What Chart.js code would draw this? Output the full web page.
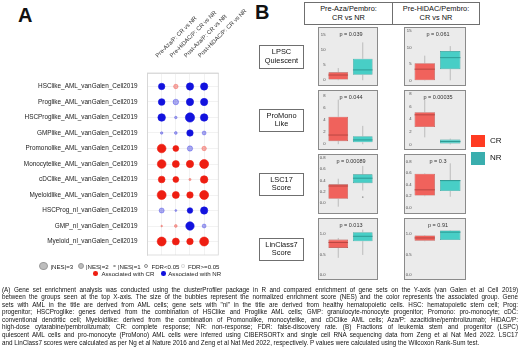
<!DOCTYPE html>
<html>
<head>
<meta charset="utf-8">
<script src="https://cdn.jsdelivr.net/npm/chart.js@4.4.1/dist/chart.umd.min.js"></script>
<style>
  body { margin: 0; width: 520px; height: 347px; position: relative; overflow: hidden; background: #fff;
         font-family: "Liberation Sans", Arial, sans-serif; color: #111; }
  .abs { position: absolute; }
  .tag { font-weight: bold; font-size: 20px; line-height: 20px; }
  .dot { box-sizing: border-box; border-radius: 50%; }
  .lg { font-size: 6.1px; line-height: 7px; white-space: nowrap; color: #222; }
  .hdr { box-sizing: border-box; border: 1px solid #6f6f6f; font-size: 7.4px; line-height: 8.4px; text-align: center;
         white-space: pre-line; display: flex; align-items: center; justify-content: center; }
  .rowlab { box-sizing: border-box; border: 1px solid #6f6f6f; font-size: 7.4px; line-height: 8.3px; text-align: center;
            display: flex; align-items: center; justify-content: center; }
  .panel { box-sizing: border-box; background: #ebebeb; border: 1.5px solid #8a8a8a; }
  .pval { font-size: 5.5px; line-height: 6px; color: #333; text-align: center; white-space: nowrap; }
  .cap { left: 2px; top: 285.5px; width: 516px; font-size: 6.3px; line-height: 7.6px; color: #111; }
  .cap div { text-align: justify; text-align-last: justify; }
  .cap div:last-child { text-align-last: left; }
</style>
</head>
<body>
<div class="abs tag" style="left:18px;top:5px">A</div>
<div class="abs tag" style="left:255px;top:2px">B</div>
<canvas id="bubble" class="abs" width="262" height="262" style="left:0;top:0"></canvas>

<span class="abs dot" style="left:39px;top:261.7px;width:8.6px;height:8.6px;background:#bdbdbd;border:0.6px solid #9a9a9a"></span>
<span class="abs lg" style="left:50.5px;top:262.5px">|NES|=3</span>
<span class="abs dot" style="left:78px;top:263px;width:6px;height:6px;background:#bdbdbd;border:0.6px solid #9a9a9a"></span>
<span class="abs lg" style="left:86px;top:262.5px">|NES|=2</span>
<span class="abs dot" style="left:113.3px;top:264.6px;width:2.8px;height:2.8px;background:#bdbdbd;border:0.5px solid #9a9a9a"></span>
<span class="abs lg" style="left:118px;top:262.5px">|NES|=1</span>
<span class="abs dot" style="left:144px;top:264px;width:4px;height:4px;background:#fff;border:0.7px solid #8a8a8a"></span>
<span class="abs lg" style="left:151.5px;top:262.5px">FDR&lt;0.05</span>
<span class="abs dot" style="left:180.5px;top:264px;width:4px;height:4px;background:#fff;border:0.7px solid rgba(140,140,140,0.35)"></span>
<span class="abs lg" style="left:188px;top:262.5px">FDR&gt;=0.05</span>
<span class="abs dot" style="left:93.4px;top:271.2px;width:4.6px;height:4.6px;background:rgb(238,30,18)"></span>
<span class="abs lg" style="left:101.5px;top:270px">Associated with CR</span>
<span class="abs dot" style="left:161px;top:271.2px;width:4.6px;height:4.6px;background:rgb(18,18,222)"></span>
<span class="abs lg" style="left:168.3px;top:270px">Associated with NR</span>

<div id="panelB"></div>

<div class="abs cap">
<div>(A) Gene set enrichment analysis was conducted using the clusterProfiler package in R and compared enrichment of gene sets on the Y-axis (van Galen et al Cell 2019)</div>
<div>between the groups seen at the top X-axis. The size of the bubbles represent the normalized enrichment score (NES) and the color represents the associated group. Gene</div>
<div>sets with AML in the title are derived from AML cells; gene sets with "nl" in the title are derived from healthy hematopoietic cells. HSC: hematopoietic stem cell; Prog:</div>
<div>progenitor; HSCProglike: genes derived from the combination of HSClike and Proglike AML cells; GMP: granulocyte-monocyte progenitor; Promono: pro-monocyte; cDC:</div>
<div>conventional dendritic cell; Myeloidlike: derived from the combination of Promonolike, monocytelike, and cDClike AML cells; Aza/P: azacitidine/pembrolizumab; HiDAC/P:</div>
<div>high-dose cytarabine/pembrolizumab; CR: complete response; NR: non-response; FDR: false-discovery rate. (B) Fractions of leukemia stem and progenitor (LSPC)</div>
<div>quiescent AML cells and pro-monocyte (ProMono) AML cells were inferred using CIBERSORTx and single cell RNA sequencing data from Zeng et al Nat Med 2022. LSC17</div>
<div>and LinClass7 scores were calculated as per Ng et al Nature 2016 and Zeng et al Nat Med 2022, respectively. P values were calculated using the Wilcoxon Rank-Sum test.</div>
</div>

<script>
// panel A: gene sets (rows) x comparisons (columns)
const rowNames = ['HSClike_AML_vanGalen_Cell2019', 'Proglike_AML_vanGalen_Cell2019', 'HSCProglike_AML_vanGalen_Cell2019',
  'GMPlike_AML_vanGalen_Cell2019', 'Promonolike_AML_vanGalen_Cell2019', 'Monocytelike_AML_vanGalen_Cell2019',
  'cDClike_AML_vanGalen_Cell2019', 'Myeloidlike_AML_vanGalen_Cell2019', 'HSCProg_nl_vanGalen_Cell2019',
  'GMP_nl_vanGalen_Cell2019', 'Myeloid_nl_vanGalen_Cell2019'];
const colNames = ['Pre-Aza/P: CR vs NR', 'Pre-HiDAC/P: CR vs NR', 'Post-Aza/P: CR vs NR', 'Post-HiDAC/P: CR vs NR'];
// NES > 0 = associated with CR, < 0 = associated with NR
const nes = [
  [-2.3,  1.6, -2.6, -2.6],
  [-2.4, -2.0, -2.6, -2.6],
  [-2.7, -0.9, -3.3, -2.7],
  [-0.9, -1.0, -2.3, -1.4],
  [ 3.1,  2.1, -1.9,  1.6],
  [ 3.1,  2.5,  2.6,  3.2],
  [ 2.4,  2.1,  0.8,  2.7],
  [ 3.2,  2.5,  2.3,  3.2],
  [-1.8, -0.7, -2.0, -2.6],
  [ 0.6,  1.0, -3.0, -1.4],
  [ 3.2,  2.5,  2.3,  3.2]
];
const fdr = [
  [0.004, 0.42, 0.001, 0.001],
  [0.006, 0.09, 0.002, 0.003],
  [0.002, 0.71, 0.001, 0.001],
  [0.64, 0.58, 0.011, 0.33],
  [0.001, 0.012, 0.12, 0.27],
  [0.001, 0.002, 0.001, 0.001],
  [0.003, 0.038, 0.86, 0.001],
  [0.001, 0.002, 0.004, 0.001],
  [0.15, 0.79, 0.018, 0.001],
  [0.93, 0.61, 0.001, 0.22],
  [0.001, 0.002, 0.004, 0.001]
];

// panel B: [min, q1, median, q3, max], order: metric x cohort
const metricNames = ['LPSC Quiescent', 'ProMono Like', 'LSC17 Score', 'LinClass7 Score'];
const cohortNames = ['Pre-Aza/Pembro:\nCR vs NR', 'Pre-HiDAC/Pembro:\nCR vs NR'];
const groups = ['CR', 'NR'];
const crBox = [
  [0.0, 0.2, 1.7, 2.6, 4.0],   [0.0, 0.1, 3.5, 5.3, 7.6],
  [0.0, 0.5, 1.5, 4.5, 7.3],   [1.2, 2.8, 4.7, 5.1, 7.0],
  [-0.07, 0.07, 0.30, 0.33, 0.43], [0.20, 0.21, 0.31, 0.59, 0.60],
  [0.42, 0.66, 0.79, 0.86, 0.90],  [0.82, 0.83, 0.90, 0.96, 0.97]
];
const nrBox = [
  [0.0, 1.8, 3.4, 7.1, 12.5],  [0.1, 3.5, 7.0, 9.0, 10.5],
  [0.0, 0.3, 0.7, 1.3, 3.0],   [0.1, 0.25, 0.55, 0.85, 1.0],
  [0.22, 0.35, 0.44, 0.51, 0.66], [0.19, 0.29, 0.47, 0.48, 0.77],
  [0.49, 0.82, 0.94, 1.04, 1.10], [0.85, 0.85, 1.04, 1.08, 1.09]
];
const nrOutliers = [[], [], [], [], [0.1], [], [], []];
const pValues = ['p = 0.039', 'p = 0.061', 'p = 0.044', 'p = 0.00035', 'p = 0.00089', 'p = 0.3', 'p = 0.013', 'p = 0.91'];
const yTicks = [[0, 5, 10, 15], [0, 2, 4, 6, 8], [0, 0.2, 0.4, 0.6, 0.8], [0, 0.5, 1.0]];
const yDecimals = [0, 0, 1, 1];
const yMin = [-0.6, -0.4, -0.3, -0.15, -0.13, -0.04, -0.02, -0.02];
const yMax = [16.6, 15.4, 8.4, 8.1, 0.82, 0.88, 1.31, 1.31];

Chart.defaults.font.family = '"Liberation Sans", Arial, sans-serif';
Chart.defaults.color = '#222';

const frame = {
  id: 'frame',
  beforeDatasetsDraw(c) {
    const { ctx, chartArea: a } = c;
    ctx.save();
    ctx.strokeStyle = '#d6d6d6';
    ctx.lineWidth = 0.8;
    ctx.strokeRect(a.left, a.top, a.right - a.left, a.bottom - a.top);
    ctx.restore();
  }
};

const points = [], fills = [], edges = [];
nes.forEach((row, i) => row.forEach((v, j) => {
  points.push({ x: j + 1, y: i + 1, r: 1.4 * Math.abs(v) });
  const sig = fdr[i][j] < 0.05;
  const rgb = v > 0 ? '238,30,18' : '18,18,222';
  fills.push(`rgba(${rgb},${sig ? 1 : 0.35})`);
  edges.push(`rgba(${rgb},${sig ? 1 : 0.5})`);
}));

new Chart(document.getElementById('bubble'), {
  type: 'bubble',
  data: { datasets: [{ data: points, backgroundColor: fills, borderColor: edges, borderWidth: 0.6 }] },
  options: {
    responsive: false,
    animation: false,
    layout: { autoPadding: false, padding: { top: 0, right: 43.7, bottom: 7, left: 0 } },
    plugins: { legend: { display: false }, tooltip: { enabled: false } },
    scales: {
      x: {
        type: 'linear', position: 'top', min: 0, max: 5,
        afterBuildTicks: s => { s.ticks = colNames.map((_, i) => ({ value: i + 1 })); },
        afterFit: s => { s.height = 73; s.paddingLeft = 0; s.paddingRight = 0; },
        grid: { color: '#ececec', lineWidth: 0.7, drawTicks: false },
        border: { color: '#d6d6d6', width: 0.8 },
        ticks: { autoSkip: false, minRotation: 45, maxRotation: 45, padding: 14, font: { size: 5.8 }, color: '#333',
                 callback: (v, i) => colNames[i] }
      },
      y: {
        type: 'linear', reverse: true, min: 0.13, max: 11.87,
        afterBuildTicks: s => { s.ticks = rowNames.map((_, i) => ({ value: i + 1 })); },
        afterFit: s => { s.width = 147.5; s.paddingTop = 0; s.paddingBottom = 0; },
        grid: { color: '#ececec', lineWidth: 0.7, drawTicks: false },
        border: { color: '#d6d6d6', width: 0.8 },
        ticks: { autoSkip: false, padding: 10, font: { size: 6.4 }, color: '#222', callback: (v, i) => rowNames[i] }
      }
    }
  },
  plugins: [frame]
});

// whiskers behind the boxes, medians on top
function boxLines(c, part) {
  const ds = c.data.datasets[0], meta = c.getDatasetMeta(0), y = c.scales.y, ctx = c.ctx;
  ctx.save();
  meta.data.forEach((bar, i) => {
    const s = ds.stats[i];
    ctx.beginPath();
    if (part === 'whisker') {
      ctx.strokeStyle = '#9a9a9a';
      ctx.lineWidth = 0.6;
      ctx.moveTo(bar.x, y.getPixelForValue(s[0])); ctx.lineTo(bar.x, y.getPixelForValue(s[1]));
      ctx.moveTo(bar.x, y.getPixelForValue(s[3])); ctx.lineTo(bar.x, y.getPixelForValue(s[4]));
    } else {
      ctx.strokeStyle = ds.borderColor[i];
      ctx.lineWidth = 0.9;
      const m = y.getPixelForValue(s[2]);
      ctx.moveTo(bar.x - bar.width / 2, m); ctx.lineTo(bar.x + bar.width / 2, m);
    }
    ctx.stroke();
  });
  ctx.restore();
}
const boxParts = {
  id: 'boxParts',
  beforeDatasetsDraw: c => boxLines(c, 'whisker'),
  afterDatasetsDraw: c => boxLines(c, 'median')
};

const colLeft = [318, 404], colWidth = [60, 62];
const rowTop = [27, 90, 154, 218], rowHeight = [59, 60, 60, 62];
const host = document.getElementById('panelB');
let html = '';
cohortNames.forEach((n, j) => {
  html += `<div class="abs hdr" style="left:${j ? 392 : 304}px;top:2px;width:${j ? 88 : 89}px;height:23px">${n}</div>`;
});
metricNames.forEach((n, m) => {
  const cy = rowTop[m] + rowHeight[m] / 2;
  html += `<div class="abs rowlab" style="left:259px;top:${cy - 11.5}px;width:45px;height:23.5px">${n.replace(' ', '<br>')}</div>`;
  cohortNames.forEach((_, j) => {
    const k = m * 2 + j;
    html += `<div class="abs panel" style="left:${colLeft[j]}px;top:${rowTop[m]}px;width:${colWidth[j]}px;height:${rowHeight[m]}px">
      <canvas id="box${k}" width="${colWidth[j] - 3}" height="${rowHeight[m] - 3}"></canvas></div>
      <div class="abs pval" style="left:${colLeft[j] + 7}px;top:${rowTop[m] + 4}px;width:${colWidth[j] - 8}px">${pValues[k]}</div>`;
  });
});
html += `<div class="abs" style="left:471px;top:135px;width:13.5px;height:12px;background:#ff3b22"></div>
  <div class="abs" style="left:490px;top:136px;font-size:8px;line-height:10px">${groups[0]}</div>
  <div class="abs" style="left:471px;top:152px;width:13.5px;height:12.5px;background:#3aaeae"></div>
  <div class="abs" style="left:490px;top:153px;font-size:8px;line-height:10px">${groups[1]}</div>`;
host.innerHTML = html;

const fillCol = ['#f0625c', '#48cec6'], edgeCol = ['#b3443f', '#2a958f'];
for (let k = 0; k < 8; k++) {
  const m = Math.floor(k / 2);
  new Chart(document.getElementById('box' + k), {
    type: 'bar',
    data: {
      labels: groups,
      datasets: [{
        data: [[crBox[k][1], crBox[k][3]], [nrBox[k][1], nrBox[k][3]]],
        stats: [crBox[k], nrBox[k]],
        backgroundColor: fillCol, borderColor: edgeCol, borderWidth: 0.6, borderSkipped: false,
        categoryPercentage: 1, barPercentage: 0.8
      }, {
        type: 'scatter',
        data: nrOutliers[k].map(v => ({ x: groups[1], y: v })),
        pointRadius: 0.8, backgroundColor: '#999', borderWidth: 0
      }]
    },
    options: {
      responsive: false,
      animation: false,
      layout: { autoPadding: false, padding: { top: 2, right: 1, bottom: 2, left: 0 } },
      plugins: { legend: { display: false }, tooltip: { enabled: false } },
      scales: {
        x: { type: 'category', display: false, grid: { display: false } },
        y: {
          min: yMin[k], max: yMax[k],
          afterBuildTicks: s => { s.ticks = yTicks[m].map(v => ({ value: v })); },
          afterFit: s => { s.width = 7; s.paddingTop = 0; s.paddingBottom = 0; },
          grid: { display: false, drawTicks: false },
          border: { display: false },
          ticks: { padding: 0.5, font: { size: 4.2 }, color: '#4d4d4d', callback: v => v.toFixed(yDecimals[m]) }
        }
      }
    },
    plugins: [boxParts]
  });
}
</script>
</body>
</html>
